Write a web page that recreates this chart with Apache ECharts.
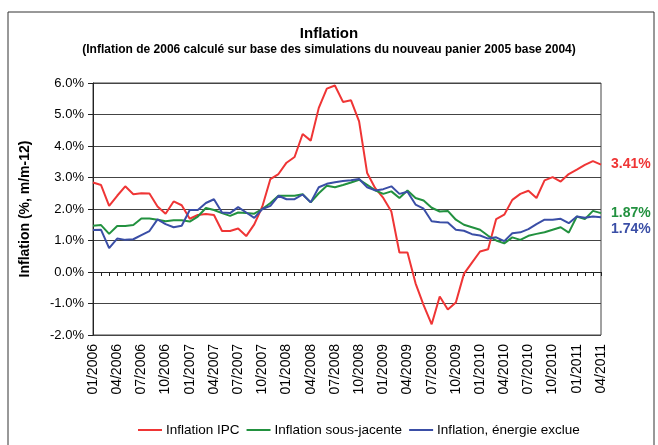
<!DOCTYPE html>
<html>
<head>
<meta charset="utf-8">
<script src="https://cdn.jsdelivr.net/npm/echarts@6/dist/echarts.min.js"></script>
<style>
  html, body { margin: 0; padding: 0; background: #fff; }
  #main { width: 658px; height: 445px; }
</style>
</head>
<body>
<div id="main"></div>
<script>
// months 01/2006 .. 04/2011
var months = [];
for (var y = 2006; y <= 2011; y++) {
  for (var m = 1; m <= 12; m++) {
    if (y === 2011 && m > 4) break;
    months.push((m < 10 ? "0" + m : "" + m) + "/" + y);
  }
}

var inflationIPC = [
  2.84, 2.76, 2.10, 2.42, 2.72, 2.47, 2.50, 2.49, 2.08, 1.85,
  2.24, 2.12, 1.69, 1.81, 1.84, 1.81, 1.30, 1.30, 1.38, 1.14,
  1.51, 2.08, 2.95, 3.11, 3.47, 3.65, 4.38, 4.17, 5.21, 5.82,
  5.92, 5.40, 5.45, 4.78, 3.14, 2.66, 2.35, 1.92, 0.62, 0.62,
  -0.36, -1.05, -1.66, -0.78, -1.19, -0.97, -0.06, 0.30, 0.65, 0.72,
  1.68, 1.82, 2.29, 2.48, 2.58, 2.35, 2.91, 3.01, 2.87, 3.11,
  3.25, 3.40, 3.52, 3.41
];
var inflationSousJacente = [
  1.47, 1.49, 1.21, 1.46, 1.46, 1.49, 1.70, 1.70, 1.66, 1.61,
  1.64, 1.64, 1.60, 1.76, 2.03, 1.97, 1.87, 1.78, 1.89, 1.87,
  1.85, 2.00, 2.19, 2.42, 2.42, 2.42, 2.47, 2.21, 2.50, 2.74,
  2.69, 2.76, 2.84, 2.93, 2.77, 2.59, 2.48, 2.56, 2.35, 2.59,
  2.35, 2.27, 2.04, 1.92, 1.94, 1.66, 1.50, 1.42, 1.34, 1.15,
  1.00, 0.91, 1.10, 1.02, 1.15, 1.21, 1.26, 1.34, 1.42, 1.25,
  1.76, 1.68, 1.94, 1.87
];
var inflationEnergieExclue = [
  1.33, 1.34, 0.76, 1.06, 1.02, 1.04, 1.17, 1.30, 1.67, 1.52,
  1.42, 1.47, 1.97, 1.97, 2.19, 2.31, 1.89, 1.87, 2.06, 1.89,
  1.72, 2.00, 2.10, 2.42, 2.31, 2.31, 2.46, 2.21, 2.69, 2.80,
  2.85, 2.89, 2.91, 2.95, 2.69, 2.59, 2.63, 2.72, 2.48, 2.55,
  2.14, 2.01, 1.61, 1.58, 1.57, 1.34, 1.31, 1.20, 1.16, 1.06,
  1.10, 0.98, 1.23, 1.26, 1.36, 1.52, 1.66, 1.66, 1.69, 1.55,
  1.76, 1.72, 1.76, 1.74
];

var font = "Liberation Sans, Arial, sans-serif";
var red = "#ef3535", green = "#22913f", blue = "#3a4ea6";

function lineSeries(name, data, color, offset) {
  return {
    name: name,
    type: "line",
    data: data,
    showSymbol: false,
    symbol: "none",
    lineStyle: { color: color, width: 2 },
    itemStyle: { color: color },
    endLabel: {
      show: true,
      distance: 10,
      offset: offset,
      color: color,
      fontFamily: font,
      fontSize: 14,
      fontWeight: "bold",
      formatter: function (p) { return p.value.toFixed(2) + "%"; }
    }
  };
}

var chart = echarts.init(document.getElementById("main"));
chart.setOption({
  animation: false,
  backgroundColor: "#fff",
  textStyle: { fontFamily: font },
  title: {
    text: "Inflation",
    subtext: "(Inflation de 2006 calculé sur base des simulations du nouveau panier 2005 base 2004)",
    left: "center",
    top: 21,
    itemGap: 3,
    textStyle: { fontFamily: font, fontSize: 15, fontWeight: "bold", color: "#000" },
    subtextStyle: { fontFamily: font, fontSize: 12, fontWeight: "bold", color: "#000" }
  },
  graphic: [{
    type: "rect",
    silent: true,
    shape: { x: 8, y: 12, width: 646, height: 440 },
    style: { fill: "none", stroke: "#333", lineWidth: 1 }
  }],
  legend: {
    bottom: 3,
    left: 133,
    itemWidth: 24,
    itemHeight: 2,
    itemGap: 7,
    icon: "rect",
    textStyle: { fontFamily: font, fontSize: 13.5, color: "#000", padding: [0, 0, 0, -1] },
    data: ["Inflation IPC", "Inflation sous-jacente", "Inflation, énergie exclue"]
  },
  grid: {
    left: 93, right: 57, top: 83, bottom: 110,
    show: true, borderColor: "#444", borderWidth: 1
  },
  xAxis: {
    type: "category",
    data: months,
    boundaryGap: false,
    axisLine: { lineStyle: { color: "#222", width: 1 } },
    axisTick: { interval: 0, length: 4, lineStyle: { color: "#222" } },
    axisLabel: {
      interval: 2,
      rotate: 90,
      margin: 9,
      fontSize: 14,
      color: "#000",
      fontFamily: font
    },
    splitLine: { show: false }
  },
  yAxis: {
    type: "value",
    min: -2,
    max: 6,
    interval: 1,
    name: "Inflation (%, m/m-12)",
    nameLocation: "middle",
    nameGap: 61,
    nameTextStyle: { fontFamily: font, fontSize: 14, fontWeight: "bold", color: "#000" },
    axisLine: { show: true, lineStyle: { color: "#222" } },
    axisTick: { show: true, length: 5, lineStyle: { color: "#222" } },
    axisLabel: {
      fontSize: 13,
      color: "#000",
      margin: 9,
      fontFamily: font,
      formatter: function (v) { return v.toFixed(1) + "%"; }
    },
    splitLine: { lineStyle: { color: "#444", width: 1 } }
  },
  series: [
    lineSeries("Inflation IPC", inflationIPC, red, [0, 0]),
    lineSeries("Inflation sous-jacente", inflationSousJacente, green, [0, 0]),
    lineSeries("Inflation, énergie exclue", inflationEnergieExclue, blue, [0, 12])
  ]
});
</script>
</body>
</html>
